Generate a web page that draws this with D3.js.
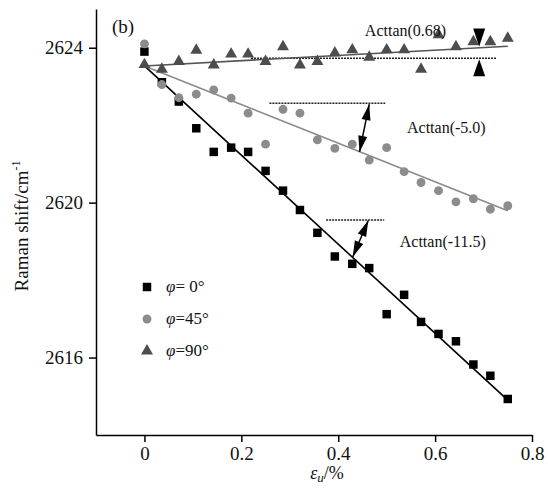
<!DOCTYPE html>
<html>
<head>
<meta charset="utf-8">
<script src="https://cdn.jsdelivr.net/npm/d3@7"></script>
<style>
  body { margin: 0; background: #fff; }
  svg text { font-family: "Liberation Serif", "Times New Roman", serif; }
</style>
</head>
<body>
<script>
(function () {

    var w = 548;
    var h = 489;

    // strain values (%)
    var strain = [0, 0.036, 0.071, 0.107, 0.143, 0.179, 0.214, 0.25, 0.286, 0.321, 0.357,
        0.393, 0.429, 0.464, 0.5, 0.536, 0.571, 0.607, 0.643, 0.679, 0.714, 0.75];

    // Raman shift for each angle
    var phi0 = [2623.90, 2623.11, 2622.61, 2621.92, 2621.31, 2621.42, 2621.31, 2620.82, 2620.31, 2619.81, 2619.22,
        2618.61, 2618.42, 2618.31, 2617.12, 2617.62, 2616.92, 2616.61, 2616.42, 2615.82, 2615.53, 2614.93];
    var phi45 = [2624.10, 2623.05, 2622.71, 2622.80, 2622.91, 2622.70, 2622.31, 2621.51, 2622.41, 2622.31, 2621.62,
        2621.40, 2621.51, 2621.10, 2621.42, 2620.80, 2620.52, 2620.31, 2620.02, 2620.10, 2619.83, 2619.92];
    var phi90 = [2623.54, 2623.42, 2623.62, 2623.91, 2623.53, 2623.81, 2623.81, 2623.62, 2624.00, 2623.53, 2623.62,
        2623.84, 2623.92, 2623.73, 2623.92, 2623.92, 2623.42, 2624.31, 2624.00, 2624.13, 2624.13, 2624.22];

    // linear fits (start and end)
    var fitX = [0, 0.75];
    var fit0 = [2623.53, 2614.90];
    var fit45 = [2623.53, 2619.79];
    var fit90 = [2623.53, 2624.04];

    var legendLabels = ["= 0°", "=45°", "=90°"];
    var xTicks = [0, 0.2, 0.4, 0.6, 0.8];
    var yTicks = [2616, 2620, 2624];

    // slope annotations
    var angleLabels = ["Acttan(0.68)", "Acttan(-5.0)", "Acttan(-11.5)"];
    var labelX = [0.455, 0.542, 0.527];
    var labelY = [2624.31, 2621.80, 2618.86];
    var refY = [2623.73, 2622.565, 2619.553];
    var refX0 = [0.22, 0.258, 0.375];
    var refX1 = [0.727, 0.497, 0.495];
    // double arrows [x top, y top, x bottom, y bottom]
    var arrows = [[0.464, 2622.54, 0.444, 2621.31], [0.462, 2619.54, 0.430, 2618.60]];
    var pinchX = 0.691;
    var pinchTop = 2624.03;
    var pinchBottom = 2623.70;

    var x = d3.scaleLinear().domain([-0.1, 0.8]).range([96, 532]);
    var y = d3.scaleLinear().domain([2614, 2625]).range([435, 9]);

    var svg = d3.select("body").append("svg")
        .attr("width", w)
        .attr("height", h);

    // axes
    var gx = svg.append("g")
        .attr("transform", "translate(0," + y(2614) + ")")
        .call(d3.axisBottom(x).tickValues(xTicks).tickSize(7).tickSizeOuter(0).tickPadding(5)
            .tickFormat(function (d) { return d === 0 ? "0" : d3.format(".1f")(d); }));
    var gy = svg.append("g")
        .attr("transform", "translate(" + x(-0.1) + ",0)")
        .call(d3.axisLeft(y).tickValues(yTicks).tickSize(7).tickSizeOuter(0).tickPadding(6)
            .tickFormat(d3.format("d")));
    [gx, gy].forEach(function (g) {
        g.selectAll("path, line").attr("stroke", "#000").attr("stroke-width", 1.5);
        g.selectAll("text").attr("font-size", 19).attr("fill", "#111");
    });

    // axis titles
    var yt = svg.append("text")
        .attr("transform", "translate(28," + 226 + ") rotate(-90)")
        .attr("text-anchor", "middle")
        .attr("font-size", 19)
        .attr("fill", "#111");
    yt.append("tspan").text("Raman shift/cm");
    yt.append("tspan").text("-1").attr("font-size", 12).attr("dy", -8);

    var xt = svg.append("text")
        .attr("x", 327).attr("y", 479)
        .attr("text-anchor", "middle")
        .attr("font-size", 18)
        .attr("fill", "#111");
    xt.append("tspan").text("ε").attr("font-style", "italic");
    xt.append("tspan").text("u").attr("font-style", "italic").attr("font-size", 13).attr("dy", 3);
    xt.append("tspan").text("/%").attr("dy", -3);

    svg.append("text")
        .attr("x", 112).attr("y", 33)
        .attr("font-size", 19)
        .attr("fill", "#111")
        .text("(b)");

    // dashed reference lines
    svg.selectAll(".ref")
        .data(refY)
        .enter()
        .append("line")
        .attr("class", "ref")
        .attr("x1", function (d, i) { return x(refX0[i]); })
        .attr("x2", function (d, i) { return x(refX1[i]); })
        .attr("y1", function (d) { return y(d); })
        .attr("y2", function (d) { return y(d); })
        .attr("stroke", "#222")
        .attr("stroke-width", 1.5)
        .attr("stroke-dasharray", "2,1");

    // fit lines
    var line = d3.line()
        .x(function (d) { return x(d[0]); })
        .y(function (d) { return y(d[1]); });
    var fits = [[fit0, "#000"], [fit45, "#8c8c8c"], [fit90, "#555"]];
    fits.forEach(function (f) {
        svg.append("path")
            .attr("d", line(fitX.map(function (v, i) { return [v, f[0][i]]; })))
            .attr("fill", "none")
            .attr("stroke", f[1])
            .attr("stroke-width", 1.6);
    });

    // markers
    var sq = d3.symbol().type(d3.symbolSquare).size(72);
    var ci = d3.symbol().type(d3.symbolCircle).size(62);
    var tr = d3.symbol().type(d3.symbolTriangle).size(62);

    svg.selectAll(".s0")
        .data(phi0)
        .enter()
        .append("path")
        .attr("class", "s0")
        .attr("d", sq)
        .attr("transform", function (d, i) { return "translate(" + x(strain[i]) + "," + y(d) + ")"; })
        .attr("fill", "#000");

    svg.selectAll(".s45")
        .data(phi45)
        .enter()
        .append("path")
        .attr("class", "s45")
        .attr("d", ci)
        .attr("transform", function (d, i) { return "translate(" + x(strain[i]) + "," + y(d) + ")"; })
        .attr("fill", "#8c8c8c");

    svg.selectAll(".s90")
        .data(phi90)
        .enter()
        .append("path")
        .attr("class", "s90")
        .attr("d", tr)
        .attr("transform", function (d, i) { return "translate(" + x(strain[i]) + "," + (y(d) - 1) + ")"; })
        .attr("fill", "#4d4d4d");

    // double-headed arrows
    arrows.forEach(function (a) {
        var x1 = x(a[0]), y1 = y(a[1]), x2 = x(a[2]), y2 = y(a[3]);
        var ang = Math.atan2(y2 - y1, x2 - x1);
        function head(tx, ty, dir) {
            var len = 16, half = 4.5;
            var bx = tx - Math.cos(dir) * len, by = ty - Math.sin(dir) * len;
            var px = -Math.sin(dir) * half, py = Math.cos(dir) * half;
            return "M" + tx + "," + ty + "L" + (bx + px) + "," + (by + py) + "L" + (bx - px) + "," + (by - py) + "Z";
        }
        svg.append("line")
            .attr("x1", x1).attr("y1", y1).attr("x2", x2).attr("y2", y2)
            .attr("stroke", "#000").attr("stroke-width", 1.5);
        svg.append("path").attr("d", head(x1, y1, ang + Math.PI)).attr("fill", "#000");
        svg.append("path").attr("d", head(x2, y2, ang)).attr("fill", "#000");
    });

    // pinch arrows for the 0.68 slope
    var px0 = x(pinchX);
    svg.append("path")
        .attr("d", "M" + px0 + "," + y(pinchTop) + "l-6,-18l12,0Z")
        .attr("fill", "#000");
    svg.append("path")
        .attr("d", "M" + px0 + "," + y(pinchBottom) + "l-6,17l12,0Z")
        .attr("fill", "#000");

    // slope labels
    svg.selectAll(".lab")
        .data(angleLabels)
        .enter()
        .append("text")
        .attr("class", "lab")
        .attr("x", function (d, i) { return x(labelX[i]); })
        .attr("y", function (d, i) { return y(labelY[i]); })
        .attr("font-size", 16)
        .attr("fill", "#111")
        .text(function (d) { return d; });

    // legend
    var legendSym = [sq, ci, tr];
    var legendCol = ["#000", "#8c8c8c", "#4d4d4d"];
    var lg = svg.selectAll(".lg")
        .data(legendLabels)
        .enter()
        .append("g")
        .attr("class", "lg")
        .attr("transform", function (d, i) { return "translate(147," + (287 + i * 32) + ")"; });
    lg.append("path")
        .attr("d", function (d, i) { return legendSym[i](); })
        .attr("fill", function (d, i) { return legendCol[i]; });
    var lt = lg.append("text")
        .attr("x", 19)
        .attr("y", 5)
        .attr("font-size", 17)
        .attr("fill", "#111");
    lt.append("tspan").attr("font-style", "italic").text("φ");
    lt.append("tspan").text(function (d) { return d; });

})();
</script>
</body>
</html>
